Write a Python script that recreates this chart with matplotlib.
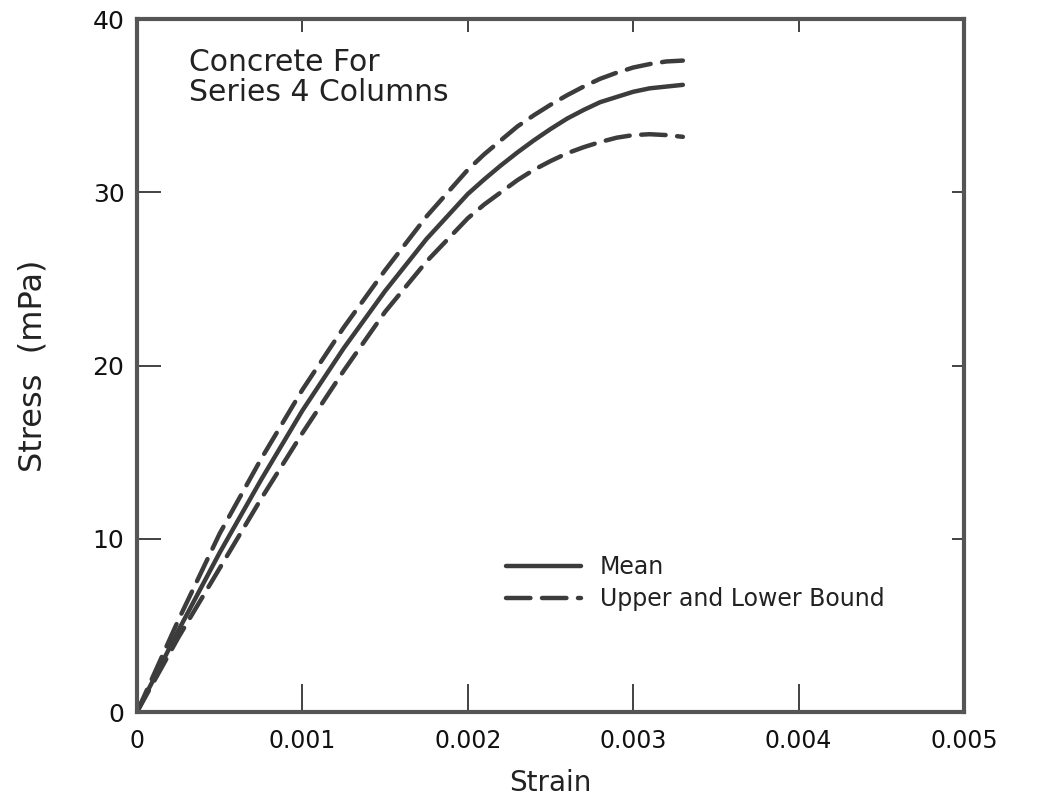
"""
Stress-strain curves for the concrete used in the Series 4 columns:
mean curve plus upper and lower bound curves.
"""

import numpy as np
import matplotlib.pyplot as plt

plt.rcParams["font.family"] = ["DejaVu Sans"]

# -- Data ----------------------------------------------------------------------

strain = [0, 0.00025, 0.0005, 0.00075, 0.001, 0.00125, 0.0015, 0.00175,
          0.002, 0.0021, 0.0022, 0.0023, 0.0024, 0.0025, 0.0026, 0.0027,
          0.0028, 0.0029, 0.003, 0.0031, 0.0032, 0.0033]

stress_mean = [0, 4.7, 9.2, 13.4, 17.4, 21.0, 24.3, 27.3,
               29.9, 30.75, 31.55, 32.3, 33.0, 33.65, 34.25, 34.75,
               35.2, 35.5, 35.8, 36.0, 36.1, 36.2]
stress_upper = [0, 5.3, 10.3, 14.6, 18.6, 22.2, 25.5, 28.6,
                31.3, 32.2, 33.0, 33.8, 34.45, 35.05, 35.6, 36.1,
                36.55, 36.9, 37.2, 37.4, 37.55, 37.6]
stress_lower = [0, 4.3, 8.3, 12.3, 16.1, 19.7, 23.1, 26.0,
                28.5, 29.3, 30.0, 30.7, 31.3, 31.8, 32.25, 32.6,
                32.9, 33.15, 33.3, 33.35, 33.3, 33.2]

x_ticks = [0, 0.001, 0.002, 0.003, 0.004, 0.005]
x_tick_labels = ["0", "0.001", "0.002", "0.003", "0.004", "0.005"]
y_ticks = [0, 10, 20, 30, 40]

# -- Figure --------------------------------------------------------------------

ink = "#3c3c3c"
fig = plt.figure(figsize=(10.4, 8.02), dpi=100)
ax = fig.add_axes([0.1317, 0.1122, 0.7953, 0.8641])

ax.plot(strain, stress_mean, color=ink, lw=3.2, solid_capstyle="round",
        solid_joinstyle="round", label="Mean")
ax.plot(strain, stress_upper, color=ink, lw=3.2, dashes=(5.5, 2.6),
        dash_capstyle="round", label="Upper and Lower Bound")
ax.plot(strain, stress_lower, color=ink, lw=3.2, dashes=(5.5, 2.6),
        dash_capstyle="round")

ax.set_xlim(0, 0.005)
ax.set_ylim(0, 40)
ax.set_xticks(x_ticks)
ax.set_xticklabels(x_tick_labels)
ax.set_yticks(y_ticks)

for side in ax.spines.values():
    side.set_linewidth(3.0)
    side.set_color("#555555")

ax.tick_params(axis="x", direction="in", length=20, width=1.2, color="#222222",
               labelsize=17, pad=12, labelcolor="#111111")
ax.tick_params(axis="y", direction="in", length=17, width=1.2, color="#222222",
               labelsize=18, pad=9, labelcolor="#111111")

# shorter ticks along the top and right edges
top = ax.secondary_xaxis("top")
top.set_xticks(x_ticks)
top.tick_params(direction="in", length=9, width=1.2, color="#222222",
                labeltop=False)
top.spines["top"].set_visible(False)
right = ax.secondary_yaxis("right")
right.set_yticks(y_ticks)
right.tick_params(direction="in", length=9, width=1.2, color="#222222",
                  labelright=False)
right.spines["right"].set_visible(False)

ax.set_xlabel("Strain", fontsize=20, color="#222222", labelpad=12)
ax.set_ylabel("Stress  (mPa)", fontsize=23, color="#222222", labelpad=32)

ax.text(0.063, 0.958, "Concrete For\nSeries 4 Columns", transform=ax.transAxes,
        fontsize=21.5, color="#222222", va="top", ha="left", linespacing=1.05)

ax.legend(loc="lower left", bbox_to_anchor=(0.42, 0.115), frameon=False,
          fontsize=17, handlelength=3.2, handletextpad=0.8, labelspacing=0.35,
          labelcolor="#222222")

fig.savefig("out.png", dpi=100)
